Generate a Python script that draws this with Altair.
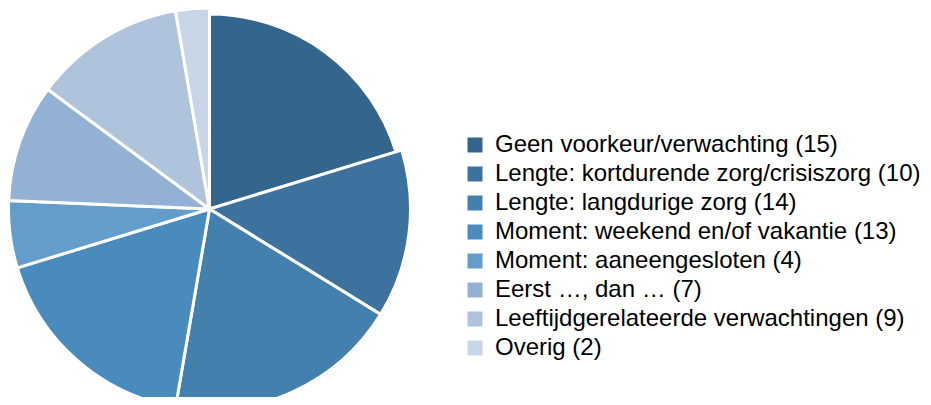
import altair as alt
import pandas as pd

categories = [
    "Geen voorkeur/verwachting (15)",
    "Lengte: kortdurende zorg/crisiszorg (10)",
    "Lengte: langdurige zorg (14)",
    "Moment: weekend en/of vakantie (13)",
    "Moment: aaneengesloten (4)",
    "Eerst …, dan … (7)",
    "Leeftijdgerelateerde verwachtingen (9)",
    "Overig (2)",
]
values = [15, 10, 14, 13, 4, 7, 9, 2]
colors = ["#34658C", "#3D729E", "#4480AE", "#4A8BBE", "#659DCA", "#93B1D4", "#AFC3DD", "#C7D5E7"]

df = pd.DataFrame({"cat": categories, "val": values, "idx": list(range(len(values)))})

chart = alt.Chart(df).transform_joinaggregate(
    total="sum(val)"
).transform_window(
    cum="sum(val)", sort=[alt.SortField("idx")], frame=[None, 0]
).transform_calculate(
    f0="(datum.cum - datum.val) / datum.total",
    f1="datum.cum / datum.total",
    r="datum.idx == 0 ? 195 : 201",
).mark_arc(
    x=201.5, y=201, stroke="white", strokeWidth=3
).encode(
    theta=alt.Theta("f0:Q", stack=None, scale=alt.Scale(domain=[0, 1], range=[0, 6.283185307])),
    theta2="f1:Q",
    radius=alt.Radius("r:Q", scale=None),
    color=alt.Color(
        "cat:N",
        scale=alt.Scale(domain=categories, range=colors),
        legend=alt.Legend(
            title=None,
            orient="none",
            legendX=455,
            legendY=125,
            symbolType="square",
            symbolSize=225,
            symbolStrokeWidth=0,
            labelFont="Liberation Sans",
            labelFontSize=24,
            labelColor="#000000",
            labelLimit=0,
            rowPadding=5,
            labelOffset=8,
            padding=0,
        ),
    ),
).properties(
    width=915, height=389, autosize=alt.AutoSizeParams(type="none"), padding=0
).configure_view(stroke=None)

chart.save("out.html", embed_options={"renderer": "svg", "actions": False})
